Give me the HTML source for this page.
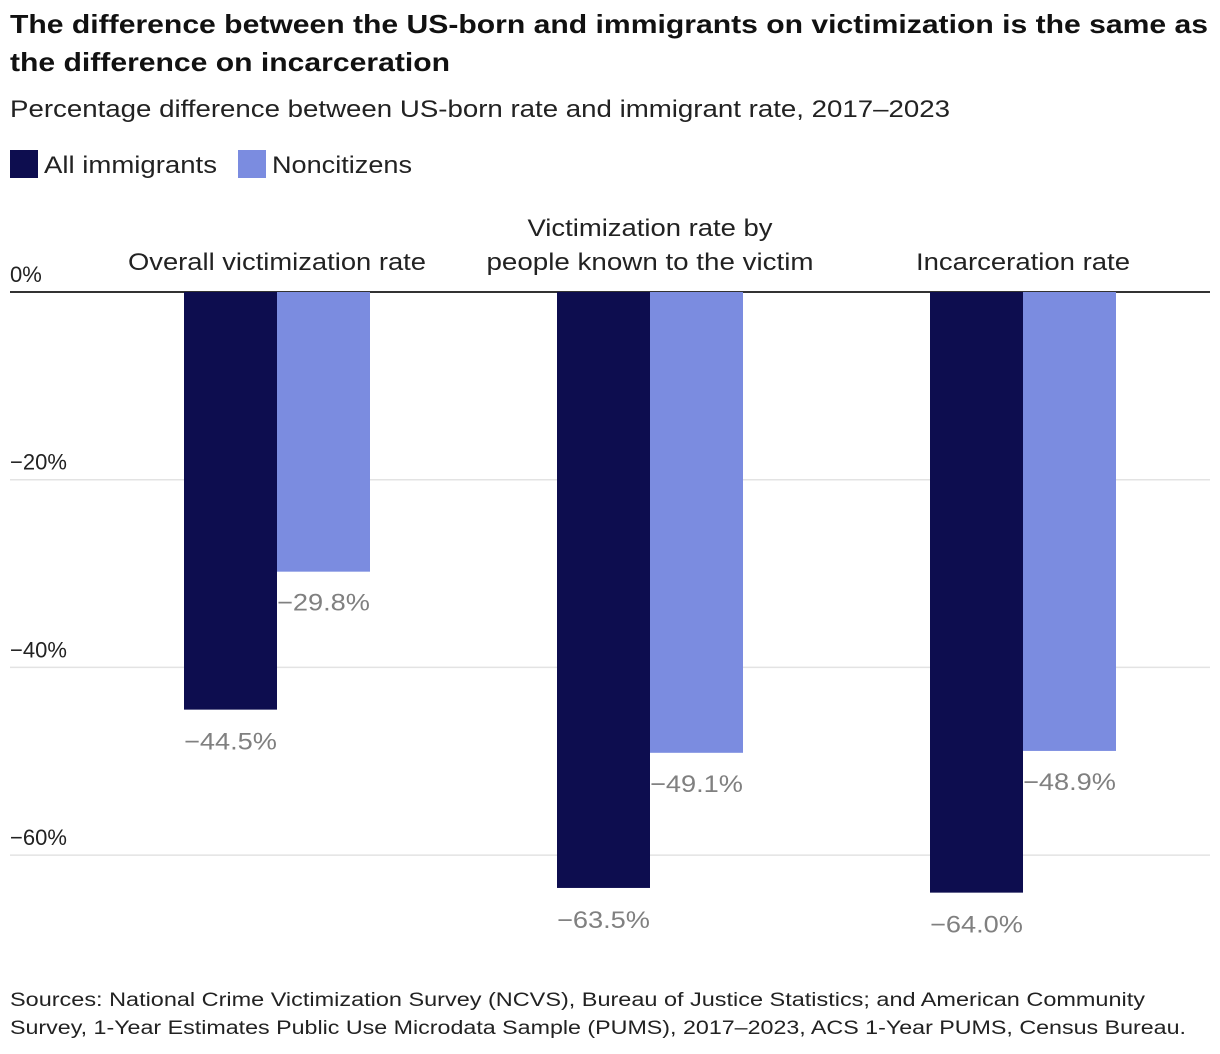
<!DOCTYPE html>
<html><head><meta charset="utf-8"><style>
html,body{margin:0;padding:0;background:#fff;}
svg{display:block;font-family:"Liberation Sans",sans-serif;}
</style></head><body>
<svg id="chart" width="1220" height="1054" viewBox="0 0 1220 1054">
<text x="10" y="33" font-size="26" font-weight="bold" fill="#111" textLength="1198" lengthAdjust="spacingAndGlyphs">The difference between the US-born and immigrants on victimization is the same as</text>
<text x="10" y="71" font-size="26" font-weight="bold" fill="#111" textLength="440" lengthAdjust="spacingAndGlyphs">the difference on incarceration</text>
<text x="10" y="117" font-size="24" fill="#222" textLength="940" lengthAdjust="spacingAndGlyphs">Percentage difference between US-born rate and immigrant rate, 2017–2023</text>
<g>
<rect x="10" y="150" width="28" height="28" fill="#0d0d4f"/>
<text x="44" y="173" font-size="24" fill="#222" textLength="173" lengthAdjust="spacingAndGlyphs">All immigrants</text>
<rect x="238" y="150" width="28" height="28" fill="#7b8ce0"/>
<text x="272" y="173" font-size="24" fill="#222" textLength="140" lengthAdjust="spacingAndGlyphs">Noncitizens</text>
</g>
<g id="grid"></g><g id="bars"></g><g id="labels"></g>
<text x="10" y="1006" font-size="19" fill="#222" textLength="1135" lengthAdjust="spacingAndGlyphs">Sources: National Crime Victimization Survey (NCVS), Bureau of Justice Statistics; and American Community</text>
<text x="10" y="1034" font-size="19" fill="#222" textLength="1176" lengthAdjust="spacingAndGlyphs">Survey, 1-Year Estimates Public Use Microdata Sample (PUMS), 2017–2023, ACS 1-Year PUMS, Census Bureau.</text>
</svg>
<script>
const categories = [["Overall victimization rate"], ["Victimization rate by", "people known to the victim"], ["Incarceration rate"]];
const categoryWidths = [[298], [245, 327], [214]];
const allImmigrants = [-44.5, -63.5, -64.0];
const noncitizens = [-29.8, -49.1, -48.9];
const ticks = [0, -20, -40, -60];
const tickLabels = ["0%", "\u221220%", "\u221240%", "\u221260%"];

const NS = "http://www.w3.org/2000/svg";
const yScale = v => 292 + (-v) * 9.385;
const groupCenter = i => 277 + i * 373;
const BW = 93;
function mk(tag, attrs, parent, text) {
  const e = document.createElementNS(NS, tag);
  for (const k in attrs) e.setAttribute(k, attrs[k]);
  if (text !== undefined) e.textContent = text;
  document.getElementById(parent).appendChild(e);
  return e;
}
const fmt = v => "\u2212" + Math.abs(v).toFixed(1) + "%";

ticks.forEach((t, i) => {
  const ty = yScale(t);
  const l = mk("line", {x1: 10, x2: 1210, y1: ty, y2: ty, stroke: t === 0 ? "#333" : "#e3e3e3", "stroke-width": t === 0 ? 2 : 1.5}, "grid");
  
  
  const tx = mk("text", {x: 10, y: ty - 10, "font-size": 22, fill: "#222"}, "grid", tickLabels[i]);
  
  
});

categories.forEach((lines, i) => {
  const c = groupCenter(i);
  lines.forEach((ln, j) => {
    const t = mk("text", {x: c, y: 270 - (lines.length - 1 - j) * 34, "font-size": 24, fill: "#222", "text-anchor": "middle", textLength: categoryWidths[i][j], lengthAdjust: "spacingAndGlyphs"}, "labels", ln);
    
    
  });
  const a = allImmigrants[i], n = noncitizens[i];
  const b1 = mk("rect", {x: c - BW, y: 292, width: BW, height: yScale(a) - 292, fill: "#0d0d4f"}, "bars");
  
  
  const b2 = mk("rect", {x: c, y: 292, width: BW, height: yScale(n) - 292, fill: "#7b8ce0"}, "bars");
  
  
  const l1 = mk("text", {x: c - BW / 2, y: yScale(a) + 40, "font-size": 24, fill: "#808080", "text-anchor": "middle", textLength: 93, lengthAdjust: "spacingAndGlyphs"}, "labels", fmt(a));
  
  
  const l2 = mk("text", {x: c + BW / 2, y: yScale(n) + 39, "font-size": 24, fill: "#808080", "text-anchor": "middle", textLength: 93, lengthAdjust: "spacingAndGlyphs"}, "labels", fmt(n));
  
  
});
</script>
</body></html>
